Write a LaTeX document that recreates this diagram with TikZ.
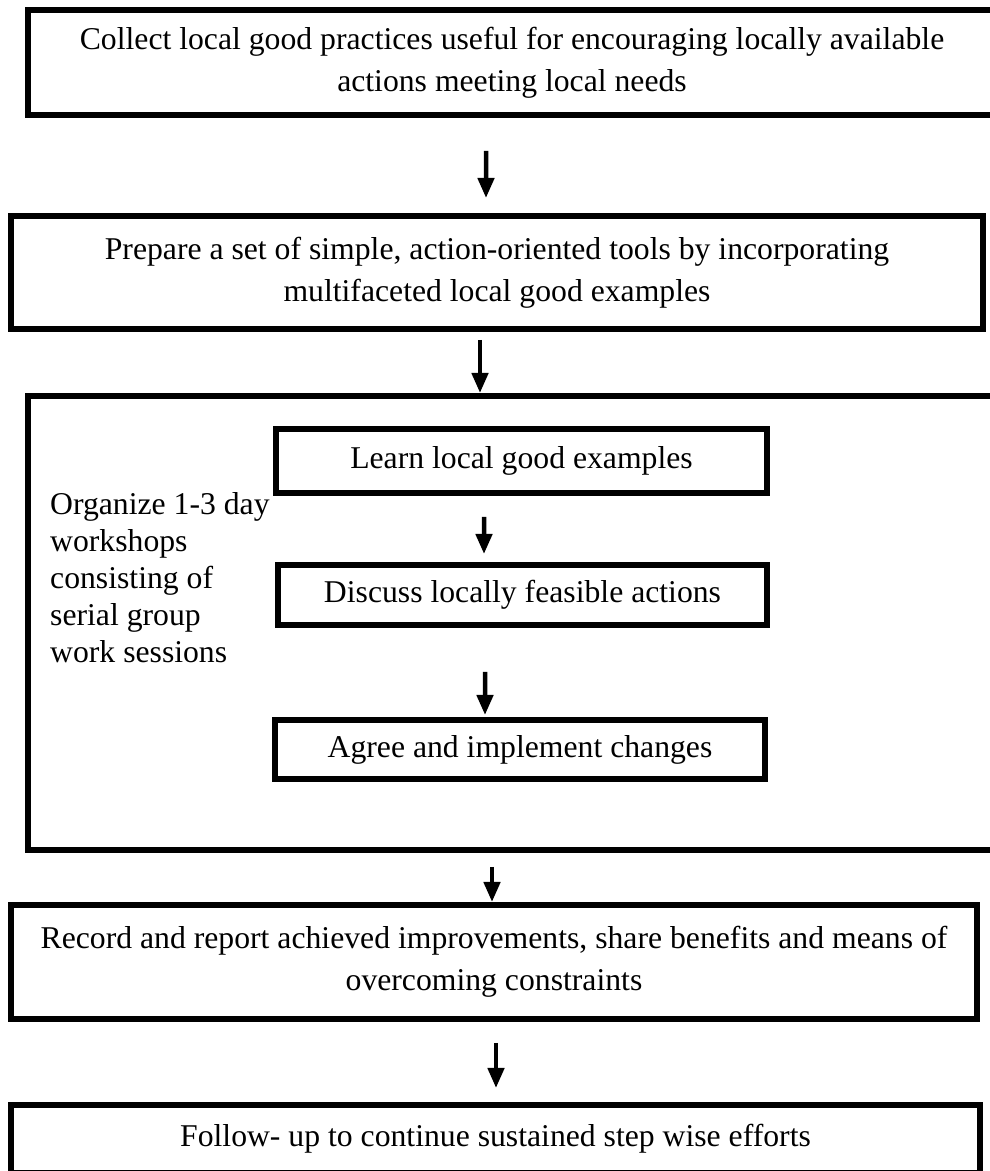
\documentclass[tikz,border=0pt]{standalone}
\usepackage{fontspec}
\setmainfont{Liberation Serif}
\usetikzlibrary{arrows.meta}
\begin{document}
\begin{tikzpicture}[>={Triangle[width=16bp,length=20bp]},line join=miter,
    stepbox/.style={draw=black,rectangle,line width=6bp,inner sep=0pt,align=center,
      font=\fontsize{31.7bp}{42bp}\selectfont},
    arr/.style={->,line width=4.5bp},
  ]
    %%
    \useasboundingbox (0bp,0bp) rectangle (990bp,1171bp);
    \node (3) at (512bp,548bp) [stepbox,minimum width=968bp,minimum height=454bp] {};
    \node (1) at (512bp,1108.5bp) [stepbox,minimum width=968bp,minimum height=105bp] {Collect local good practices useful for encouraging locally available\\actions meeting local needs};
    \node (2) at (497bp,898.5bp) [stepbox,minimum width=972bp,minimum height=113bp] {Prepare a set of simple, action-oriented tools by incorporating\\multifaceted local good examples};
    \node (4) at (521.5bp,710bp) [stepbox,minimum width=491bp,minimum height=64bp] {Learn local good examples};
    \node (5) at (522.5bp,576bp) [stepbox,minimum width=489bp,minimum height=60bp] {Discuss locally feasible actions};
    \node (6) at (520bp,421.5bp) [stepbox,minimum width=490bp,minimum height=59bp] {Agree and implement changes};
    \node (9) at (50bp,593.5bp) [anchor=west,align=left,inner sep=0pt,font=\fontsize{31.7bp}{37bp}\selectfont] {Organize 1-3 day\\workshops\\consisting of\\serial group\\work sessions};
    \node (7) at (494bp,209bp) [stepbox,minimum width=966bp,minimum height=114bp] {Record and report achieved improvements, share benefits and means of\\overcoming constraints};
    \node (8) at (495.5bp,32bp) [stepbox,minimum width=969bp,minimum height=68bp] {Follow- up to continue sustained step wise efforts};
    \draw [arr,shorten <=33bp,shorten >=15bp] ([xshift=-26bp]1.south) -- ([xshift=-11bp]2.north);
    \draw [arr,shorten <=8bp] ([xshift=-17bp]2.south) -- ([xshift=-32bp]3.north);
    \draw [arr,shorten <=21bp,shorten >=8bp] ([xshift=-37.5bp]4.south) -- ([xshift=-38.5bp]5.north);
    \draw [arr,shorten <=44bp,shorten >=2bp] ([xshift=-37.5bp]5.south) -- ([xshift=-35bp]6.north);
    \draw [arr,shorten <=14bp] ([xshift=-20bp]3.south) -- ([xshift=-2bp]7.north);
    \draw [arr,shorten <=21bp,shorten >=14bp] ([xshift=2bp]7.south) -- ([xshift=0.5bp]8.north);
    %
\end{tikzpicture}
\end{document}
